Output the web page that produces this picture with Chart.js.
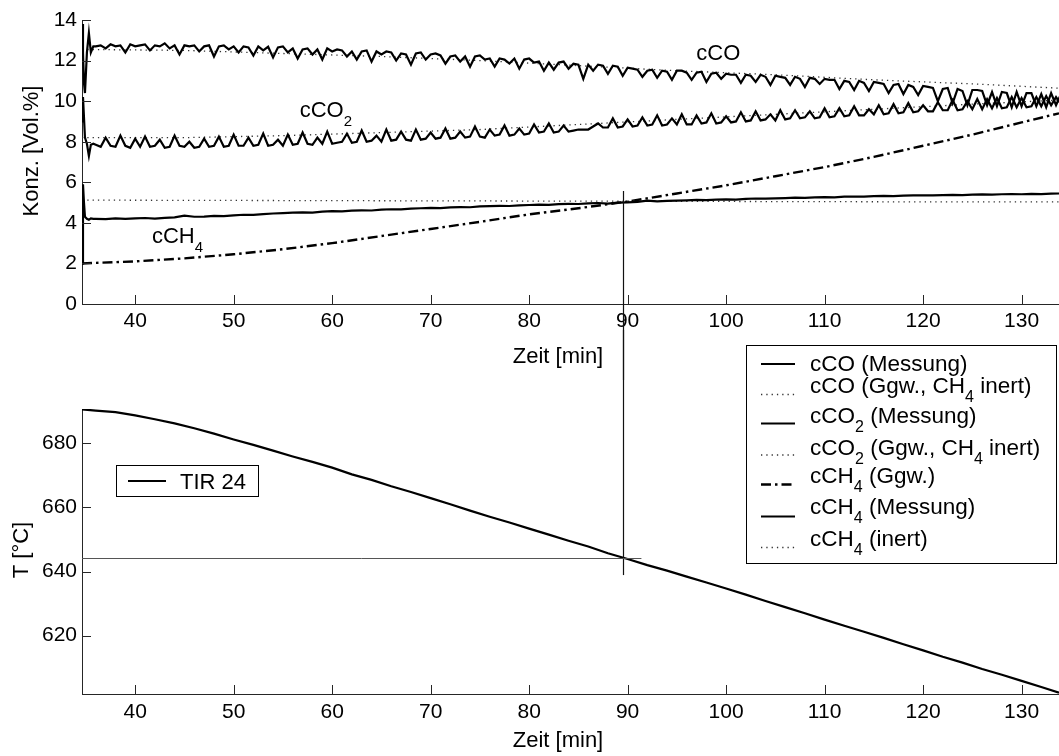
<!DOCTYPE html>
<html>
<head>
<meta charset="utf-8">
<title>Konzentration und Temperatur</title>
<script src="https://cdn.jsdelivr.net/npm/chart.js@4.4.0/dist/chart.umd.min.js"></script>
<style>
html, body { margin: 0; padding: 0; background: #fff; }
#wrap { position: relative; width: 1059px; height: 756px; overflow: hidden; }
canvas { position: absolute; left: 0; }
#concChart { top: 0; }
#tempChart { top: 330px; }
</style>
</head>
<body>
<div id="wrap">
  <canvas id="concChart" width="1059" height="380"></canvas>
  <canvas id="tempChart" width="1059" height="426"></canvas>
</div>
<script>
const FONT = '"Liberation Sans", Arial, Helvetica, sans-serif';

// axes
const xMin = 34.6, xMax = 133.8;
const xTicks = [40, 50, 60, 70, 80, 90, 100, 110, 120, 130];
const concMin = 0, concMax = 14;
const concTicks = [0, 2, 4, 6, 8, 10, 12, 14];
const tempMin = 601.8, tempMax = 690.7;
const tempTicks = [620, 640, 660, 680];

// start-up transient (min)
const tStart = [34.6, 34.7, 34.8, 34.9, 35.1, 35.3, 35.5, 35.75];
const coStart = [13.8, 12.4, 10.9, 10.4, 12.4, 13.35, 12.4, 12.7];
const co2Start = [9.0, 10.2, 9.2, 8.2, 7.9, 7.3, 7.85, 7.9];
const ch4Start = [2.0, 5.9, 5.0, 4.3, 4.2, 4.15, 4.22, 4.2];

// measurement, 0.5 min samples
const tHalf = [
  36, 36.5, 37, 37.5, 38, 38.5, 39, 39.5, 40, 40.5,
  41, 41.5, 42, 42.5, 43, 43.5, 44, 44.5, 45, 45.5,
  46, 46.5, 47, 47.5, 48, 48.5, 49, 49.5, 50, 50.5,
  51, 51.5, 52, 52.5, 53, 53.5, 54, 54.5, 55, 55.5,
  56, 56.5, 57, 57.5, 58, 58.5, 59, 59.5, 60, 60.5,
  61, 61.5, 62, 62.5, 63, 63.5, 64, 64.5, 65, 65.5,
  66, 66.5, 67, 67.5, 68, 68.5, 69, 69.5, 70, 70.5,
  71, 71.5, 72, 72.5, 73, 73.5, 74, 74.5, 75, 75.5,
  76, 76.5, 77, 77.5, 78, 78.5, 79, 79.5, 80, 80.5,
  81, 81.5, 82, 82.5, 83, 83.5, 84, 84.5, 85, 85.5,
  86, 86.5, 87, 87.5, 88, 88.5, 89, 89.5, 90, 90.5,
  91, 91.5, 92, 92.5, 93, 93.5, 94, 94.5, 95, 95.5,
  96, 96.5, 97, 97.5, 98, 98.5, 99, 99.5, 100, 100.5,
  101, 101.5, 102, 102.5, 103, 103.5, 104, 104.5, 105, 105.5,
  106, 106.5, 107, 107.5, 108, 108.5, 109, 109.5, 110, 110.5,
  111, 111.5, 112, 112.5, 113, 113.5, 114, 114.5, 115, 115.5,
  116, 116.5, 117, 117.5, 118, 118.5, 119, 119.5, 120, 120.5,
  121, 121.5, 122, 122.5, 123, 123.5, 124, 124.5, 125, 125.5,
  126, 126.5, 127, 127.5, 128, 128.5, 129, 129.5, 130, 130.5,
  131, 131.5, 132, 132.5, 133, 133.5, 134
];
const coMeas = [
  12.7, 12.75, 12.6, 12.8, 12.7, 12.75, 12.4, 12.8, 12.7, 12.75,
  12.8, 12.5, 12.75, 12.7, 12.85, 12.6, 12.75, 12.3, 12.75, 12.7,
  12.75, 12.45, 12.7, 12.75, 12.2, 12.7, 12.75, 12.55, 12.7, 12.4,
  12.7, 12.65, 12.25, 12.7, 12.5, 12.68, 12.15, 12.65, 12.7, 12.4,
  12.6, 12.1, 12.55, 12.6, 12.3, 12.55, 12.05, 12.6, 12.45, 12.55,
  12.5, 12.2, 12.45, 12.05, 12.45, 12.5, 11.95, 12.45, 12.3, 12.45,
  12.4, 12.0, 12.35, 12.3, 11.8, 12.35, 12.4, 12.05, 12.3, 12.35,
  12.25, 11.85, 12.2, 12.25, 11.95, 12.2, 11.7, 12.2, 12.25, 12.05,
  12.1, 11.7, 12.1, 12.05, 11.85, 12.1, 11.6, 12.05, 12.1, 11.9,
  11.95, 11.5, 11.9, 11.55, 11.9, 11.95, 11.6, 11.85, 11.8, 11.1,
  11.8, 11.5, 11.8, 11.75, 11.35, 11.75, 11.7, 11.25, 11.65, 11.6,
  11.55, 11.2, 11.5, 11.55, 11.15, 11.5, 11.45, 11.05, 11.5, 11.5,
  11.4, 11.05, 11.4, 11.45, 10.95, 11.35, 11.4, 11.1, 11.35, 11.3,
  11.3, 10.9, 11.3, 11.25, 10.95, 11.3, 11.2, 10.8, 11.25, 11.2,
  11.15, 10.8, 11.2, 11.1, 10.7, 11.15, 11.1, 10.85, 11.1, 11.05,
  11.05, 10.6, 11.0, 10.95, 10.55, 11.0, 10.9, 10.5, 10.95, 10.9,
  10.85, 10.4, 10.8, 10.85, 10.35, 10.8, 10.7, 10.3, 10.75, 10.7,
  10.65, 10.0, 10.6, 10.65, 9.9, 10.6, 10.5, 9.8, 10.55, 10.55,
  10.5, 9.8, 10.45, 9.75, 10.45, 10.4, 9.7, 10.45, 9.75, 10.4,
  10.4, 9.75, 10.35, 9.7, 10.4, 9.8, 10.35
];
const co2Meas = [
  7.85, 7.75, 8.2, 7.8, 7.75, 8.3, 7.8, 7.7, 8.15, 7.75,
  8.25, 7.75, 7.8, 8.1, 7.7, 7.75, 8.3, 7.8, 7.75, 8.0,
  7.7, 7.75, 8.15, 7.75, 7.8, 8.25, 7.75, 7.8, 8.35, 7.8,
  7.8, 8.2, 7.8, 7.85, 8.4, 7.8, 7.85, 8.1, 7.8, 8.35,
  7.85, 7.9, 8.45, 7.9, 7.85, 8.2, 7.9, 8.5, 7.9, 7.95,
  8.0, 8.4, 7.95, 8.0, 8.55, 8.0, 8.05, 8.3, 8.0, 8.6,
  8.05, 8.1, 8.5, 8.1, 8.05, 8.6, 8.1, 8.15, 8.45, 8.15,
  8.2, 8.65, 8.15, 8.2, 8.5, 8.2, 8.25, 8.75, 8.25, 8.2,
  8.6, 8.3, 8.35, 8.8, 8.3, 8.35, 8.65, 8.35, 8.4, 8.85,
  8.45, 8.5, 8.9, 8.45, 8.5, 8.8, 8.5, 8.55, 8.6, 8.6,
  8.6, 8.75, 8.9, 8.7, 8.7, 9.15, 8.7, 8.75, 9.1, 8.75,
  8.8, 9.2, 8.8, 8.85, 9.3, 8.8, 8.85, 9.15, 8.85, 9.35,
  8.85, 8.85, 9.3, 8.9, 8.95, 9.4, 8.9, 8.95, 9.25, 8.95,
  9.0, 9.45, 9.0, 9.05, 9.5, 9.05, 9.1, 9.35, 9.05, 9.55,
  9.1, 9.15, 9.55, 9.15, 9.2, 9.5, 9.15, 9.2, 9.65, 9.2,
  9.25, 9.65, 9.25, 9.3, 9.75, 9.3, 9.3, 9.6, 9.35, 9.8,
  9.35, 9.4, 9.85, 9.4, 9.45, 9.9, 9.45, 9.5, 9.8, 9.5,
  9.5, 9.95, 9.55, 9.55, 10.05, 9.55, 9.6, 10.0, 9.6, 10.1,
  9.6, 10.1, 9.65, 10.15, 9.65, 9.7, 10.2, 9.7, 10.15, 9.7,
  9.75, 10.2, 9.75, 10.25, 9.8, 10.2, 9.85
];

// methane measurement, 1 min samples
const tOne = [
  36, 37, 38, 39, 40, 41, 42, 43, 44, 45,
  46, 47, 48, 49, 50, 51, 52, 53, 54, 55,
  56, 57, 58, 59, 60, 61, 62, 63, 64, 65,
  66, 67, 68, 69, 70, 71, 72, 73, 74, 75,
  76, 77, 78, 79, 80, 81, 82, 83, 84, 85,
  86, 87, 88, 89, 90, 91, 92, 93, 94, 95,
  96, 97, 98, 99, 100, 101, 102, 103, 104, 105,
  106, 107, 108, 109, 110, 111, 112, 113, 114, 115,
  116, 117, 118, 119, 120, 121, 122, 123, 124, 125,
  126, 127, 128, 129, 130, 131, 132, 133, 134
];
const ch4Meas = [
  4.2, 4.18, 4.22, 4.2, 4.22, 4.24, 4.21, 4.25, 4.27, 4.36,
  4.3, 4.31, 4.34, 4.33, 4.37, 4.4, 4.39, 4.43, 4.46, 4.48,
  4.5, 4.52, 4.5, 4.55, 4.58, 4.57, 4.6, 4.62, 4.61, 4.65,
  4.67, 4.66, 4.7, 4.72, 4.74, 4.73, 4.76, 4.78, 4.77, 4.81,
  4.82, 4.84, 4.83, 4.86, 4.88, 4.9, 4.89, 4.92, 4.94, 4.93,
  4.96, 4.98, 4.95, 5.0, 5.01, 5.03, 5.1, 5.06, 5.08, 5.1,
  5.11, 5.13, 5.12, 5.15, 5.16, 5.15, 5.18, 5.2, 5.19, 5.21,
  5.22, 5.24, 5.23, 5.26, 5.27, 5.26, 5.29, 5.3, 5.29, 5.32,
  5.33, 5.32, 5.34, 5.35, 5.36, 5.35, 5.37, 5.38, 5.37, 5.39,
  5.4, 5.39, 5.41, 5.42, 5.41, 5.43, 5.42, 5.44, 5.45
];

// equilibrium calculations
const tGgw = [34.6, 40, 45, 50, 55, 60, 65, 70, 75, 80, 85, 90, 95, 100, 105, 110, 115, 120, 125, 130, 133.8];
const ch4Ggw = [2.0, 2.1, 2.25, 2.45, 2.7, 3.0, 3.35, 3.7, 4.05, 4.42, 4.72, 5.05, 5.45, 5.85, 6.3, 6.75, 7.25, 7.8, 8.35, 8.95, 9.4];
const tInert = [34.6, 45, 55, 65, 75, 85, 95, 105, 115, 125, 133.8];
const coInert = [12.55, 12.5, 12.35, 12.2, 12.0, 11.75, 11.5, 11.3, 11.05, 10.85, 10.64];
const co2Inert = [8.2, 8.2, 8.3, 8.45, 8.6, 8.85, 9.1, 9.35, 9.6, 9.85, 10.05];
const ch4Inert = [5.12, 5.11, 5.1, 5.09, 5.08, 5.07, 5.06, 5.05, 5.04, 5.03, 5.03];

// temperature TIR 24
const tTemp = [
  34.6, 36, 38, 40, 42, 44, 46, 48, 50, 52, 54, 56, 58, 60, 62, 64, 66, 68, 70, 72,
  74, 76, 78, 80, 82, 84, 86, 88, 90, 92, 94, 96, 98, 100, 102, 104, 106, 108, 110, 112,
  114, 116, 118, 120, 122, 124, 126, 128, 130, 132, 133.8
];
const tir24 = [
  690.6, 690.2, 689.7, 688.7, 687.5, 686.2, 684.7, 683.0, 681.2, 679.5, 677.7, 675.9, 674.2, 672.4, 670.3, 668.6, 666.6, 664.8, 662.9, 661.0,
  659.0, 657.1, 655.3, 653.4, 651.5, 649.6, 647.8, 645.7, 643.9, 642.0, 640.3, 638.4, 636.6, 634.7, 632.8, 630.8, 628.9, 627.0, 625.0, 623.1,
  621.2, 619.3, 617.3, 615.4, 613.4, 611.6, 609.6, 607.8, 605.9, 604.0, 602.2
];

// read-off cursor
const cursorTime = 89.5;
const cursorConcTop = 5.57;
const cursorTemp = 644.3;
const cursorTempLow = 638.9;
const cursorTimeEnd = 91.4;

const pts = (xs, ys) => xs.map((x, i) => ({ x: x, y: ys[i] }));

const styles = {
  solid: { borderColor: '#000', borderWidth: 1.8, borderDash: [] },
  dotted: { borderColor: '#333', borderWidth: 1.3, borderDash: [1.3, 4] },
  dashDot: { borderColor: '#000', borderWidth: 2.4, borderDash: [10, 4, 2.5, 4] }
};

// text with subscripts: [text, isSub]
function drawRich(ctx, segs, x, y, size) {
  let cx = x;
  ctx.textAlign = 'left';
  ctx.textBaseline = 'alphabetic';
  segs.forEach(([txt, sub]) => {
    ctx.font = (sub ? Math.round(size * 0.7) : size) + 'px ' + FONT;
    ctx.fillText(txt, cx, sub ? y + size * 0.42 : y);
    cx += ctx.measureText(txt).width;
  });
}

function strokeSample(ctx, style, x1, x2, y) {
  ctx.save();
  ctx.strokeStyle = style.borderColor;
  ctx.lineWidth = style.borderWidth;
  ctx.setLineDash(style.borderDash);
  ctx.beginPath();
  ctx.moveTo(x1, y);
  ctx.lineTo(x2, y);
  ctx.stroke();
  ctx.restore();
}

// inward ticks + axis titles (MATLAB look)
const framePlugin = {
  id: 'frame',
  afterDraw(chart, args, opts) {
    const { ctx, chartArea: a, scales: { x, y } } = chart;
    ctx.save();
    ctx.strokeStyle = '#262626';
    ctx.lineWidth = 1;
    ctx.beginPath();
    x.ticks.forEach(t => {
      const px = Math.round(x.getPixelForValue(t.value)) + 0.5;
      ctx.moveTo(px, a.bottom);
      ctx.lineTo(px, a.bottom - 9);
    });
    y.ticks.forEach(t => {
      const py = Math.round(y.getPixelForValue(t.value)) + 0.5;
      ctx.moveTo(a.left, py);
      ctx.lineTo(a.left + 9, py);
    });
    ctx.stroke();
    ctx.fillStyle = '#000';
    ctx.font = '22px ' + FONT;
    ctx.textAlign = 'center';
    ctx.textBaseline = 'middle';
    ctx.fillText(opts.xTitle, opts.xTitleX, opts.xTitleY);
    ctx.translate(opts.yTitleX, opts.yTitleY);
    ctx.rotate(-Math.PI / 2);
    ctx.fillText(opts.yTitle, 0, 0);
    ctx.restore();
  }
};

// labels inside the concentration plot
const curveLabels = [
  { t: 96.97, c: 12.03, segs: [['cCO', 0]] },
  { t: 56.7, c: 9.22, segs: [['cCO', 0], ['2', 1]] },
  { t: 41.7, c: 3.0, segs: [['cCH', 0], ['4', 1]] }
];
const curveLabelPlugin = {
  id: 'curveLabels',
  afterDatasetsDraw(chart) {
    const { ctx, scales: { x, y } } = chart;
    ctx.save();
    ctx.fillStyle = '#000';
    curveLabels.forEach(l => drawRich(ctx, l.segs, x.getPixelForValue(l.t), y.getPixelForValue(l.c), 22));
    ctx.restore();
  }
};

const cursorTopPlugin = {
  id: 'cursorTop',
  afterDatasetsDraw(chart) {
    const { ctx, scales: { x, y } } = chart;
    const px = Math.round(x.getPixelForValue(cursorTime)) + 0.5;
    ctx.save();
    ctx.strokeStyle = '#111';
    ctx.lineWidth = 1.2;
    ctx.beginPath();
    ctx.moveTo(px, y.getPixelForValue(cursorConcTop));
    ctx.lineTo(px, chart.height);
    ctx.stroke();
    ctx.restore();
  }
};

const cursorBottomPlugin = {
  id: 'cursorBottom',
  afterDatasetsDraw(chart) {
    const { ctx, scales: { x, y } } = chart;
    const px = Math.round(x.getPixelForValue(cursorTime)) + 0.5;
    const py = Math.round(y.getPixelForValue(cursorTemp)) + 0.5;
    ctx.save();
    ctx.strokeStyle = '#111';
    ctx.lineWidth = 1.2;
    ctx.beginPath();
    ctx.moveTo(px, 0);
    ctx.lineTo(px, y.getPixelForValue(cursorTempLow));
    ctx.stroke();
    ctx.strokeStyle = '#555';
    ctx.lineWidth = 1;
    ctx.beginPath();
    ctx.moveTo(x.getPixelForValue(xMin), py);
    ctx.lineTo(x.getPixelForValue(cursorTimeEnd), py);
    ctx.stroke();
    ctx.restore();
  }
};

// legend of the concentration plot (drawn on the lower canvas, it overlaps both)
const concLegend = [
  { segs: [['cCO (Messung)', 0]], style: 'solid' },
  { segs: [['cCO (Ggw., CH', 0], ['4', 1], [' inert)', 0]], style: 'dotted' },
  { segs: [['cCO', 0], ['2', 1], [' (Messung)', 0]], style: 'solid' },
  { segs: [['cCO', 0], ['2', 1], [' (Ggw., CH', 0], ['4', 1], [' inert)', 0]], style: 'dotted' },
  { segs: [['cCH', 0], ['4', 1], [' (Ggw.)', 0]], style: 'dashDot' },
  { segs: [['cCH', 0], ['4', 1], [' (Messung)', 0]], style: 'solid' },
  { segs: [['cCH', 0], ['4', 1], [' (inert)', 0]], style: 'dotted' }
];
const tempLegend = [{ segs: [['TIR 24', 0]], style: 'solid' }];

const legendPlugin = {
  id: 'boxLegend',
  afterDraw(chart) {
    const { ctx } = chart;
    ctx.save();
    // concentration legend
    ctx.fillStyle = '#fff';
    ctx.fillRect(746, 15, 311, 218);
    ctx.strokeStyle = '#000';
    ctx.lineWidth = 1;
    ctx.strokeRect(746.5, 15.5, 310, 218);
    const lineY = [34, 64.5, 93.5, 125, 154.5, 186.5, 217.5];
    const textY = [41, 63, 93, 125, 153, 184, 216];
    ctx.fillStyle = '#000';
    concLegend.forEach((e, i) => {
      strokeSample(ctx, styles[e.style], 761, 795, lineY[i]);
      drawRich(ctx, e.segs, 810, textY[i], 22.5);
    });
    // temperature legend
    ctx.fillStyle = '#fff';
    ctx.fillRect(116, 135, 143, 31);
    ctx.strokeStyle = '#000';
    ctx.strokeRect(116.5, 135.5, 142, 31);
    strokeSample(ctx, { borderColor: '#000', borderWidth: 2, borderDash: [] }, 128, 166, 151);
    ctx.fillStyle = '#000';
    drawRich(ctx, tempLegend[0].segs, 180, 159, 22);
    ctx.restore();
  }
};

function xScale(height, pad) {
  return {
    type: 'linear',
    min: xMin,
    max: xMax,
    afterBuildTicks: s => { s.ticks = xTicks.map(v => ({ value: v })); },
    afterFit: s => { s.height = height; },
    grid: { display: false, drawTicks: false },
    border: { display: true, color: '#262626', width: 1 },
    ticks: { color: '#000', font: { family: FONT, size: 21 }, padding: pad, autoSkip: false, maxRotation: 0 }
  };
}

function yScale(min, max, ticks) {
  return {
    type: 'linear',
    min: min,
    max: max,
    afterBuildTicks: s => { s.ticks = ticks.map(v => ({ value: v })); },
    afterFit: s => { s.width = 82; },
    grid: { display: false, drawTicks: false },
    border: { display: true, color: '#262626', width: 1 },
    ticks: { color: '#000', font: { family: FONT, size: 21 }, padding: 5 }
  };
}

const common = {
  responsive: false,
  animation: false,
  events: [],
  parsing: false,
  elements: { point: { radius: 0 }, line: { tension: 0 } },
  plugins: { legend: { display: false }, tooltip: { enabled: false } }
};

const measured = { borderColor: '#000', borderWidth: 2.2, borderDash: [] };

new Chart(document.getElementById('concChart'), {
  type: 'line',
  data: {
    datasets: [
      Object.assign({ label: 'cCO (Messung)', data: pts(tStart, coStart).concat(pts(tHalf, coMeas)) }, measured),
      Object.assign({ label: 'cCO2 (Messung)', data: pts(tStart, co2Start).concat(pts(tHalf, co2Meas)) }, measured),
      Object.assign({ label: 'cCH4 (Messung)', data: pts(tStart, ch4Start).concat(pts(tOne, ch4Meas)) }, measured),
      Object.assign({ label: 'cCO (Ggw., CH4 inert)', data: pts(tInert, coInert) }, styles.dotted),
      Object.assign({ label: 'cCO2 (Ggw., CH4 inert)', data: pts(tInert, co2Inert) }, styles.dotted),
      Object.assign({ label: 'cCH4 (inert)', data: pts(tInert, ch4Inert) }, styles.dotted),
      Object.assign({ label: 'cCH4 (Ggw.)', data: pts(tGgw, ch4Ggw) }, styles.dashDot)
    ]
  },
  options: Object.assign({}, common, {
    layout: { padding: { top: 20, left: 0, right: 0, bottom: 0 } },
    scales: { x: xScale(76, 5), y: yScale(concMin, concMax, concTicks) },
    plugins: Object.assign({}, common.plugins, {
      frame: { xTitle: 'Zeit [min]', xTitleX: 558, xTitleY: 357, yTitle: 'Konz. [Vol.%]', yTitleX: 32, yTitleY: 151 }
    })
  }),
  plugins: [framePlugin, curveLabelPlugin, cursorTopPlugin]
});

new Chart(document.getElementById('tempChart'), {
  type: 'line',
  data: {
    datasets: [
      { label: 'TIR 24', data: pts(tTemp, tir24), borderColor: '#000', borderWidth: 2.2 }
    ]
  },
  options: Object.assign({}, common, {
    layout: { padding: { top: 79, left: 0, right: 0, bottom: 0 } },
    scales: { x: xScale(62, 6), y: yScale(tempMin, tempMax, tempTicks) },
    plugins: Object.assign({}, common.plugins, {
      frame: { xTitle: 'Zeit [min]', xTitleX: 558, xTitleY: 411, yTitle: 'T [°C]', yTitleX: 22, yTitleY: 220 }
    })
  }),
  plugins: [framePlugin, cursorBottomPlugin, legendPlugin]
});
</script>
</body>
</html>
